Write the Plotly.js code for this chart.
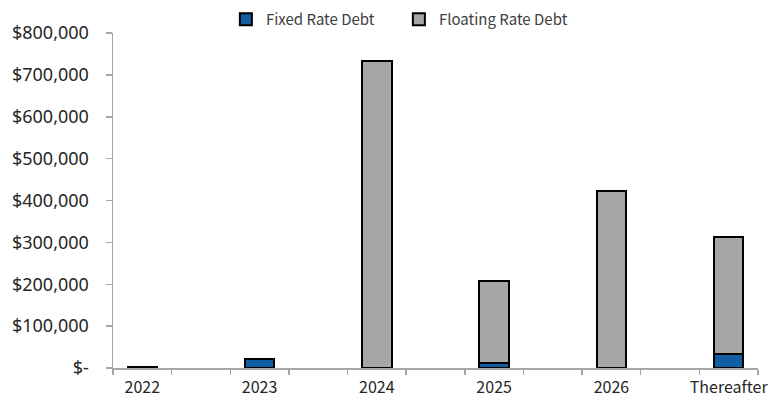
<!DOCTYPE html>
<html>
<head>
<meta charset="utf-8">
<script src="https://cdn.plot.ly/plotly-3.0.1.min.js"></script>
<style>html,body{margin:0;padding:0;background:#fff;}#chart{width:770px;height:398px;}</style>
</head>
<body>
<div id="chart"></div>
<script>
var categories = ["2022", "2023", "2024", "2025", "2026", "Thereafter"];
var slots = [0, 2, 4, 6, 8, 10];
var fixedRate = [0, 21000, 0, 13000, 0, 33000];
var floatingRate = [2000, 0, 732000, 194000, 423000, 281000];
var yTickVals = [0, 100000, 200000, 300000, 400000, 500000, 600000, 700000, 800000];
var yTickText = ["$-", "$100,000", "$200,000", "$300,000", "$400,000", "$500,000", "$600,000", "$700,000", "$800,000"];

var lineStyle = {color: "#000000", width: 2};
var traces = [
  {type: "bar", name: "Fixed Rate Debt", x: slots, y: fixedRate, width: 0.5,
   marker: {color: "#125EA3", line: lineStyle}},
  {type: "bar", name: "Floating Rate Debt", x: slots, y: floatingRate, width: 0.5,
   marker: {color: "#A6A6A6", line: lineStyle}}
];
var layout = {
  width: 770, height: 398,
  margin: {l: 113, r: 12, t: 33, b: 30, autoexpand: false},
  barmode: "stack",
  paper_bgcolor: "#ffffff", plot_bgcolor: "#ffffff",
  showlegend: true,
  legend: {orientation: "h", x: 0.175, xanchor: "left", y: 1.04, yanchor: "middle",
    font: {family: "Noto Sans CJK JP, Noto Sans, sans-serif", size: 15, color: "#404040"},
    traceorder: "normal", itemwidth: 30, entrywidth: 128, bgcolor: "rgba(0,0,0,0)"},
  xaxis: {
    range: [-0.5, 10.5], tickvals: slots, ticktext: categories,
    ticks: "", showgrid: false, zeroline: false, ticklabelstandoff: 4,
    ticklabeloverflow: "allow",
    showline: true, linecolor: "#A6A6A6", linewidth: 1.5,
    tickfont: {family: "Noto Sans CJK JP, Noto Sans, sans-serif", size: 16, color: "#262626"},
    minor: {tick0: -0.5, dtick: 1, ticks: "outside", ticklen: 5, tickcolor: "#A6A6A6", tickwidth: 1.5, showgrid: false}
  },
  yaxis: {
    range: [0, 800000], tickvals: yTickVals, ticktext: yTickText,
    ticks: "outside", ticklen: 6, tickcolor: "#A6A6A6", tickwidth: 1.5,
    showgrid: false, zeroline: false, ticklabelstandoff: 13,
    showline: true, linecolor: "#A6A6A6", linewidth: 1.5,
    tickfont: {family: "Noto Sans, sans-serif", size: 18, color: "#262626"}
  }
};
Plotly.newPlot("chart", traces, layout, {staticPlot: true, displayModeBar: false});
</script>
</body>
</html>
